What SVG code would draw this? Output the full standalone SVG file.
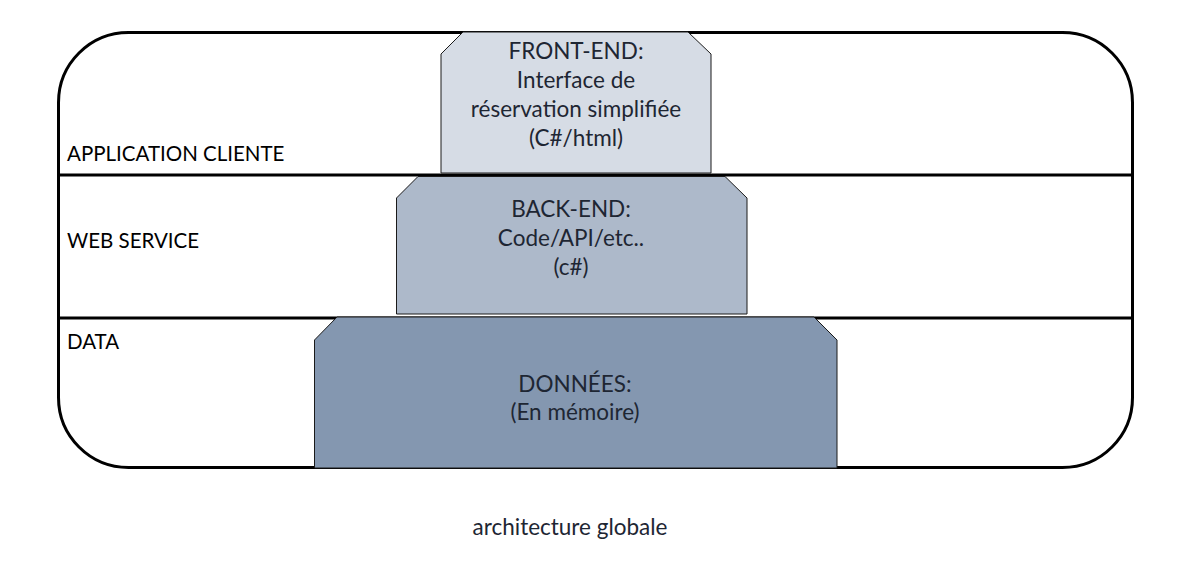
<svg xmlns="http://www.w3.org/2000/svg" width="1189" height="572" viewBox="0 0 1189 572">
<style>
.frame{fill:#ffffff;stroke:#000000;stroke-width:3}
.div{stroke:#000000;stroke-width:3}
.box{stroke:#1a1a1a;stroke-width:1}
.lbl{font-family:Lato,"Liberation Sans",sans-serif;font-size:20.5px;fill:#000000}
.txt{font-family:Lato,"Liberation Sans",sans-serif;font-size:22.5px;fill:#1e2633;text-anchor:middle}
</style>
<rect width="1189" height="572" fill="#ffffff"/>
<g id="frame">
<rect class="frame" x="58.5" y="32.5" width="1074" height="435" rx="70" ry="70"/>
</g>
<g id="connectors">
<line class="div" x1="58" y1="175" x2="1133" y2="175"/>
<line class="div" x1="58" y1="318" x2="1133" y2="318"/>
</g>
<g id="layer-labels">
<text class="lbl" x="67" y="161">APPLICATION CLIENTE</text>
<text class="lbl" x="67" y="248">WEB SERVICE</text>
<text class="lbl" x="67" y="349">DATA</text>
</g>
<g id="front-end">
<polygon class="box" fill="#d6dce5" points="463,32 688,32 711,54 711,173 441,173 441,54"/>
<text class="txt" x="576" y="59">FRONT-END:</text>
<text class="txt" x="576" y="88">Interface de</text>
<text class="txt" x="576" y="117">réservation simplifiée</text>
<text class="txt" x="576" y="146">(C#/html)</text>
</g>
<g id="back-end">
<polygon class="box" fill="#adb9ca" points="418,176.5 725,176.5 747,198 747,314 396.5,314 396.5,198"/>
<text class="txt" x="571" y="217">BACK-END:</text>
<text class="txt" x="571" y="246">Code/API/etc..</text>
<text class="txt" x="571" y="275">(c#)</text>
</g>
<g id="donnees">
<polygon class="box" fill="#8497b0" points="337,317 814,317 837,340 837,468 314.5,468 314.5,340"/>
<text class="txt" x="575" y="392">DONNÉES:</text>
<text class="txt" x="575" y="420">(En mémoire)</text>
</g>
<g id="caption">
<text class="txt" x="570" y="535">architecture globale</text>
</g>
</svg>
